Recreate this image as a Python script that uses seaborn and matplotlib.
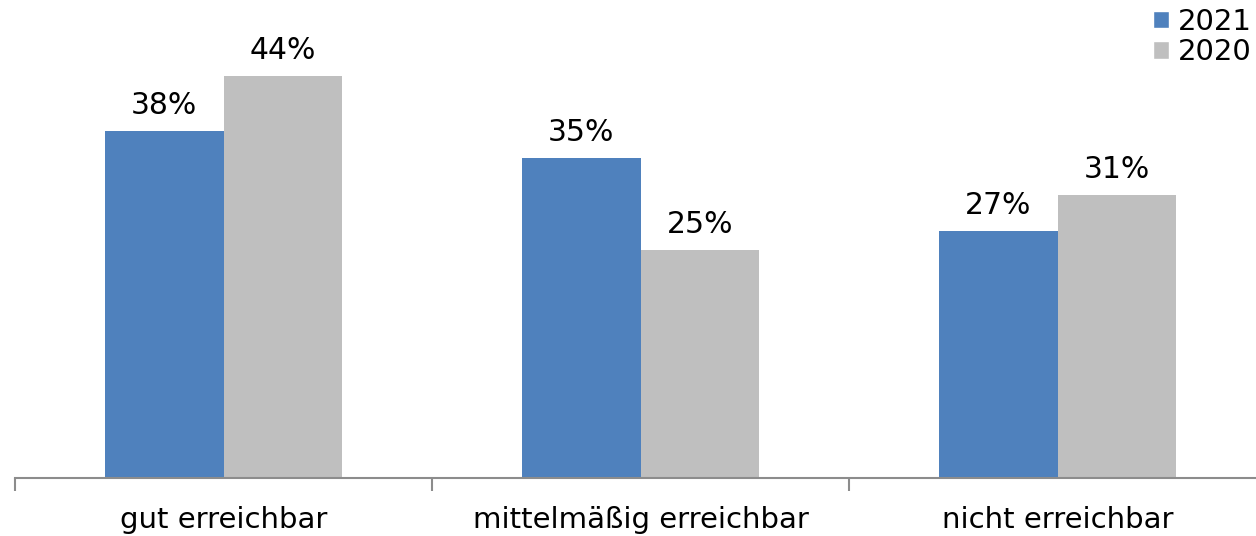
import matplotlib
matplotlib.use("Agg")
import matplotlib.pyplot as plt
import seaborn as sns
import pandas as pd
from matplotlib.patches import Patch

categories = ["gut erreichbar", "mittelmäßig erreichbar", "nicht erreichbar"]
years = ["2021", "2020"]
values_2021 = [38, 35, 27]
values_2020 = [44, 25, 31]
colors = {"2021": "#4F81BD", "2020": "#BFBFBF"}

df = pd.DataFrame({
    "Kategorie": categories * 2,
    "Jahr": ["2021"] * 3 + ["2020"] * 3,
    "Anteil": values_2021 + values_2020,
})

sns.set_theme(style="white")
plt.rcParams["font.family"] = ["DejaVu Sans"]
plt.rcParams["text.color"] = "black"

fig = plt.figure(figsize=(12.56, 5.36), dpi=100)
ax = fig.add_axes([15 / 1256, 58 / 536, 1251 / 1256, 456.5 / 536])

sns.barplot(data=df, x="Kategorie", y="Anteil", hue="Jahr", hue_order=years,
            palette=colors, width=0.57, saturation=1, linewidth=0,
            ax=ax, legend=False)

for cont in ax.containers:
    ax.bar_label(cont, fmt="%d%%", padding=8, fontsize=21.5, color="black")

ax.set_xlim(-0.5, 2.5)
ax.set_ylim(0, 50)
ax.set_xlabel("")
ax.set_ylabel("")
ax.set_yticks([])

for side in ["left", "right", "top"]:
    ax.spines[side].set_visible(False)
ax.spines["bottom"].set_color("#8c8c8c")
ax.spines["bottom"].set_linewidth(1.5)

ax.set_xticks([0, 1, 2])
ax.set_xticklabels(categories, fontsize=21, color="black")
ax.tick_params(axis="x", length=0, pad=20)
ax.set_xticks([-0.5, 0.5, 1.5, 2.5], minor=True)
ax.tick_params(axis="x", which="minor", length=9, width=1.5, color="#8c8c8c", bottom=True)

handles = [Patch(facecolor=colors[y], label=y) for y in years]
fig.legend(handles=handles, loc="upper right", bbox_to_anchor=(0.998, 0.988),
           frameon=False, fontsize=21, handlelength=0.55, handleheight=0.55,
           handletextpad=0.3, labelspacing=0.08, borderaxespad=0.0, borderpad=0.05,
           labelcolor="black")

fig.savefig("out.png", dpi=100)
